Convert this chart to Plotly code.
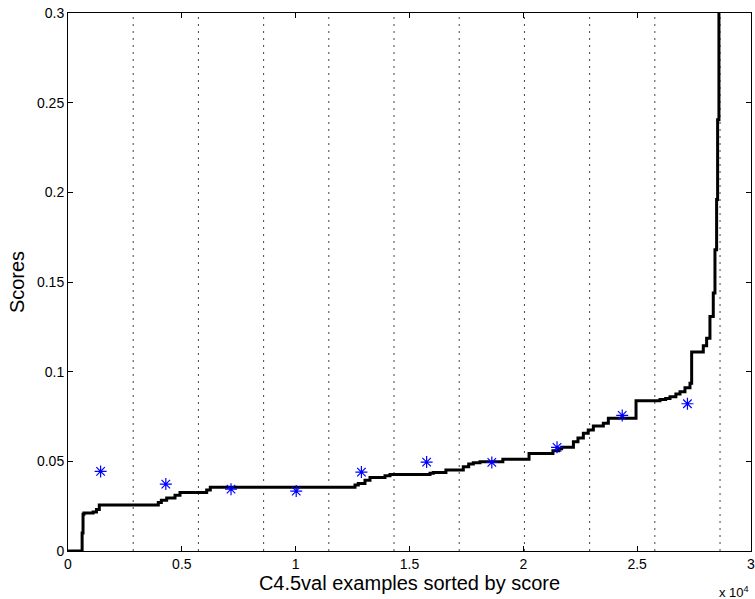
import plotly.graph_objects as go

# ---- data ----
N_EXAMPLES = 28640
N_BINS = 10

# sorted score curve: (rank where level starts, score)
curve_rank = [0, 620, 660, 700, 1100, 1250, 1375, 3966, 4100, 4334, 4700, 4919,
              6092, 6250, 12606, 12752, 13045, 13265, 13924, 14144, 15900, 16046,
              16600, 17363, 17600, 17803, 18096, 19100, 20250, 21300, 21550, 21684,
              22200, 22400, 22636, 22850, 23075, 23514, 23734, 24950, 26003, 26250,
              26442, 26700, 26881, 27100, 27320, 27393, 27905, 28051, 28197, 28343,
              28417, 28490, 28534, 28592, 28640]
curve_score = [0.0, 0.010, 0.0205, 0.0212, 0.0218, 0.0232, 0.0257, 0.0270, 0.0283,
               0.0296, 0.0311, 0.0326, 0.0340, 0.0356, 0.0368, 0.0377, 0.0395, 0.0410,
               0.0420, 0.0427, 0.0433, 0.0438, 0.0451, 0.0470, 0.0485, 0.0492, 0.0497,
               0.0512, 0.0544, 0.0559, 0.0570, 0.0578, 0.0609, 0.0630, 0.0656, 0.0675,
               0.0697, 0.0712, 0.0740, 0.0838, 0.0845, 0.0850, 0.0860, 0.0875, 0.0888,
               0.0910, 0.0935, 0.1110, 0.1145, 0.1187, 0.1307, 0.1438, 0.1680, 0.1960,
               0.2405, 0.3010, 0.3600]

# per-bin values (blue stars)
bin_scores = [0.0444, 0.0373, 0.0345, 0.0334, 0.0440, 0.0496, 0.0494, 0.0578, 0.0756, 0.0821]

x_tick_vals = [0, 5000, 10000, 15000, 20000, 25000, 30000]
x_tick_text = ["0", "0.5", "1", "1.5", "2", "2.5", "3"]
y_tick_vals = [0, 0.05, 0.1, 0.15, 0.2, 0.25, 0.3]
y_tick_text = ["0", "0.05", "0.1", "0.15", "0.2", "0.25", "0.3"]

bin_w = N_EXAMPLES / N_BINS
bin_centers = [(k + 0.5) * bin_w for k in range(N_BINS)]
bin_edges = [(k + 1) * bin_w for k in range(N_BINS)]

FONT = "Liberation Sans, Arial, Helvetica, sans-serif"

fig = go.Figure()

# dotted bin separators
vx, vy = [], []
for e in bin_edges:
    vx += [e, e, None]
    vy += [0, 0.3, None]
fig.add_trace(go.Scatter(x=vx, y=vy, mode="lines",
                         line=dict(color="#444444", width=1, dash="2px,5px"),
                         hoverinfo="skip", showlegend=False))

fig.add_trace(go.Scatter(x=curve_rank, y=curve_score, mode="lines",
                         line=dict(color="black", width=3, shape="hv"),
                         showlegend=False))

fig.add_trace(go.Scatter(x=bin_centers, y=bin_scores, mode="markers",
                         marker=dict(symbol="asterisk-open", size=10, color="#0000FF",
                                     line=dict(color="#0000FF", width=1.2)),
                         showlegend=False))

axis_common = dict(showline=True, linecolor="black", linewidth=1, mirror="ticks",
                   ticks="inside", ticklen=5, tickcolor="black", tickwidth=1,
                   showgrid=False, zeroline=False, ticklabeloverflow="allow",
                   automargin=False,
                   tickfont=dict(family=FONT, size=14, color="black"))

fig.update_xaxes(range=[0, 30000], tickvals=x_tick_vals, ticktext=x_tick_text,
                 title=dict(text="C4.5val examples sorted by score",
                            font=dict(family=FONT, size=20, color="black"), standoff=4),
                 **axis_common)
fig.update_yaxes(range=[0, 0.3], tickvals=y_tick_vals, ticktext=y_tick_text,
                 title=dict(text="Scores", font=dict(family=FONT, size=20, color="black"),
                            standoff=6),
                 **axis_common)

fig.add_annotation(x=1, xref="paper", y=-0.057, yref="paper", xanchor="right",
                   yanchor="top", showarrow=False,
                   text="x 10<sup>4</sup>", font=dict(family=FONT, size=13, color="black"))

fig.update_layout(width=755, height=599, margin=dict(l=68, r=4, t=13, b=48),
                  plot_bgcolor="white", paper_bgcolor="white",
                  font=dict(family=FONT, color="black"))

fig.write_html("out.html")
